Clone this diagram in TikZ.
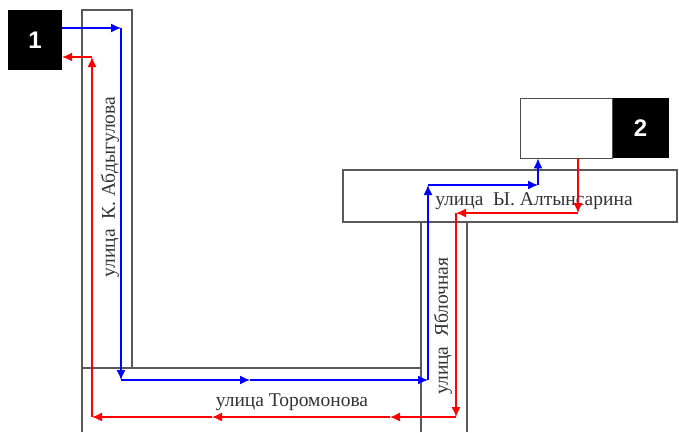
\documentclass[tikz,border=0pt]{standalone}
\usepackage{fontspec}
\setmainfont{Liberation Serif}
\newfontfamily\digitfont{Liberation Sans}
\usetikzlibrary{positioning}
\usetikzlibrary{arrows.meta}

\begin{document}
\begin{tikzpicture}[x=1pt, y=-1pt,
blacknode/.style={rectangle, fill=black, text=white, font=\digitfont\bfseries\fontsize{24}{24}\selectfont, inner sep=0pt},
whitenode/.style={rectangle, draw=black!70, fill=white, thick, inner sep=0pt},
street/.style={draw=black!65, line width=1.2pt},
streetname/.style={font=\fontsize{19.5}{19.5}\selectfont, text=black!80, inner sep=0pt},
route/.style={line width=1.3pt, ->, >={Latex[length=10pt,width=9pt]}},
]
\useasboundingbox (0,0) rectangle (679,432);

%Streets
\draw[street] (82,432) -- (82,10) -- (132,10) -- (132,368);
\draw[street] (82,368) -- (421,368);
\draw[street] (421,432) -- (421,222);
\draw[street] (467,432) -- (467,222);
\draw[street] (343,170) rectangle (677,222);

%Nodes
\node[blacknode, minimum width=54pt, minimum height=60pt]  (pointone)  at (35,40)          {1};
\node[whitenode, minimum width=92pt, minimum height=60pt]  (office)    at (566,128)        {};
\node[blacknode, minimum width=56pt, minimum height=60pt]  (pointtwo)  [right=0pt of office] {2};

\node[streetname, rotate=90]  (abdygulova)  at (110,187)  {улица\ \ К. Абдыгулова};
\node[streetname]             (toromonova)  at (292,402)  {улица Торомонова};
\node[streetname, rotate=90]  (yablochnaya) at (443,326)  {улица\ \ Яблочная};
\node[streetname]             (altynsarin)  at (534,201)  {улица\ \ Ы. Алтынсарина};

%Corners
\coordinate (b1) at (121,28);
\coordinate (b2) at (121,380);
\coordinate (b3) at (250,380);
\coordinate (b4) at (428,380);
\coordinate (b5) at (428,185);
\coordinate (b6) at (538,185);
\coordinate (r1) at (578,213);
\coordinate (r2) at (456,213);
\coordinate (r3) at (456,417);
\coordinate (r4) at (390,417);
\coordinate (r5) at (212,417);
\coordinate (r6) at (92,417);
\coordinate (r7) at (92,57);

%Lines
\draw[route, blue] (pointone.east |- b1) -- (b1);
\draw[route, blue] (b1) -- (b2);
\draw[route, blue] (b2) -- (b3);
\draw[route, blue] (b3) -- (b4);
\draw[route, blue] (b4) -- (b5);
\draw[route, blue] (b5) -- (b6);
\draw[route, blue] (b6) -- (b6 |- office.south);

\draw[route, red] (office.south -| r1) -- (r1);
\draw[route, red] (r1) -- (r2);
\draw[route, red] (r2) -- (r3);
\draw[route, red] (r3) -- (r4);
\draw[route, red] (r4) -- (r5);
\draw[route, red] (r5) -- (r6);
\draw[route, red] (r6) -- (r7);
\draw[route, red] (r7) -- (r7 -| pointone.east);
\end{tikzpicture}
\end{document}
